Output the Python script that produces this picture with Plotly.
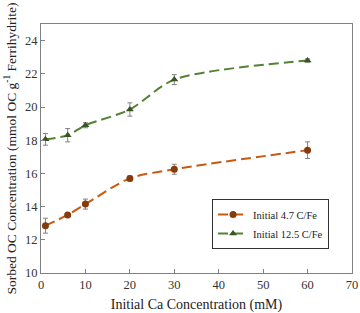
import plotly.graph_objects as go

x_vals = [1, 6, 10, 20, 30, 60]
orange_y = [12.85, 13.5, 14.15, 15.7, 16.25, 17.4]
orange_err = [0.45, 0.1, 0.3, 0.15, 0.3, 0.5]
green_y = [18.05, 18.3, 18.9, 19.85, 21.65, 22.8]
green_err = [0.35, 0.4, 0.15, 0.4, 0.3, 0.1]
names = ["Initial 4.7 C/Fe", "Initial 12.5 C/Fe"]
x_ticks = [0, 10, 20, 30, 40, 50, 60, 70]
y_ticks = [10, 12, 14, 16, 18, 20, 22, 24]

font = "Liberation Serif, Times New Roman, serif"

fig = go.Figure()
fig.add_trace(go.Scatter(
    x=x_vals, y=orange_y, name=names[0], mode="lines+markers",
    line=dict(color="#c55a11", width=2, dash="10px,5px", shape="spline", smoothing=0.8),
    marker=dict(symbol="circle", size=7, color="#843c0c"),
    error_y=dict(type="data", array=orange_err, color="#808080", thickness=1, width=2.5),
))
fig.add_trace(go.Scatter(
    x=x_vals, y=green_y, name=names[1], mode="lines+markers",
    line=dict(color="#548235", width=2, dash="10px,5px", shape="spline", smoothing=0.8),
    marker=dict(symbol="triangle-up", size=7, color="#375623"),
    error_y=dict(type="data", array=green_err, color="#808080", thickness=1, width=2.5),
))

axis_common = dict(
    showline=True, linecolor="#808080", linewidth=1.2, mirror=True,
    ticks="inside", ticklen=4, tickcolor="#808080", showgrid=False, zeroline=False,
    tickfont=dict(family=font, size=12.5, color="#333333"), automargin=False,
)
fig.update_xaxes(range=[0, 70], tickvals=x_ticks,
                 title=dict(text="Initial Ca Concentration (mM)", font=dict(family=font, size=14, color="#222"), standoff=12),
                 **axis_common)
fig.update_yaxes(range=[10, 25], tickvals=y_ticks,
                 title=dict(text="Sorbed OC Concentration (mmol OC g<sup>-1</sup> Ferrihydrite)", font=dict(family=font, size=13.5, color="#222"), standoff=5),
                 **axis_common)

fig.update_layout(
    width=360, height=313,
    margin=dict(l=41, r=8, t=24, b=40),
    plot_bgcolor="white", paper_bgcolor="white",
    showlegend=True,
    legend=dict(x=0.55, y=0.297, xanchor="left", yanchor="top",
                bordercolor="#333333", borderwidth=1, bgcolor="white",
                font=dict(family=font, size=10.5, color="#222"),
                tracegroupgap=4, itemwidth=30),
)

fig.write_html("out.html", config={"displayModeBar": False},
               post_script="document.body.style.margin='0';")
